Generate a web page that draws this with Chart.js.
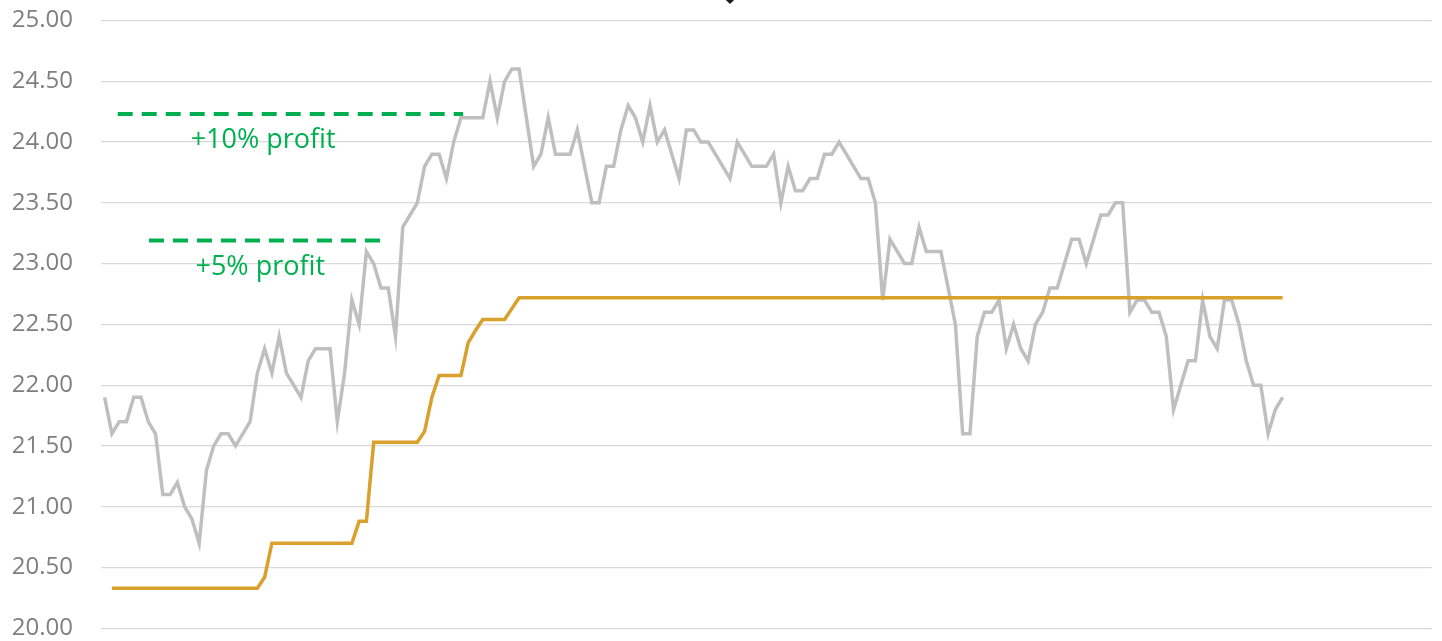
<!DOCTYPE html>
<html>
<head>
<meta charset="utf-8">
<script src="https://cdn.jsdelivr.net/npm/chart.js@4.4.1/dist/chart.umd.min.js"></script>
<style>
  html, body { margin: 0; padding: 0; background: #ffffff; }
  #wrap { width: 1442px; height: 641px; position: relative; }
</style>
</head>
<body>
<div id="wrap"><canvas id="stopChart"></canvas></div>
<script>
// Number of day slots on the x axis (last ones are empty)
const daySlots = 183;

// Closing price, one value per trading day
const price = [
  21.9, 21.6, 21.7, 21.7, 21.9, 21.9, 21.7, 21.6, 21.1, 21.1,
  21.2, 21.0, 20.9, 20.7, 21.3, 21.5, 21.6, 21.6, 21.5, 21.6,
  21.7, 22.1, 22.3, 22.1, 22.4, 22.1, 22.0, 21.9, 22.2, 22.3,
  22.3, 22.3, 21.7, 22.1, 22.7, 22.5, 23.1, 23.0, 22.8, 22.8,
  22.4, 23.3, 23.4, 23.5, 23.8, 23.9, 23.9, 23.7, 24.0, 24.2,
  24.2, 24.2, 24.2, 24.5, 24.2, 24.5, 24.6, 24.6, 24.2, 23.8,
  23.9, 24.2, 23.9, 23.9, 23.9, 24.1, 23.8, 23.5, 23.5, 23.8,
  23.8, 24.1, 24.3, 24.2, 24.0, 24.3, 24.0, 24.1, 23.9, 23.7,
  24.1, 24.1, 24.0, 24.0, 23.9, 23.8, 23.7, 24.0, 23.9, 23.8,
  23.8, 23.8, 23.9, 23.5, 23.8, 23.6, 23.6, 23.7, 23.7, 23.9,
  23.9, 24.0, 23.9, 23.8, 23.7, 23.7, 23.5, 22.7, 23.2, 23.1,
  23.0, 23.0, 23.3, 23.1, 23.1, 23.1, 22.8, 22.5, 21.6, 21.6,
  22.4, 22.6, 22.6, 22.7, 22.3, 22.5, 22.3, 22.2, 22.5, 22.6,
  22.8, 22.8, 23.0, 23.2, 23.2, 23.0, 23.2, 23.4, 23.4, 23.5,
  23.5, 22.6, 22.7, 22.7, 22.6, 22.6, 22.4, 21.8, 22.0, 22.2,
  22.2, 22.7, 22.4, 22.3, 22.7, 22.7, 22.5, 22.2, 22.0, 22.0,
  21.6, 21.8, 21.9
];

// Trailing stop level (starts on day 2)
const trailingStop = [
  null, 20.33, 20.33, 20.33, 20.33, 20.33, 20.33, 20.33, 20.33, 20.33,
  20.33, 20.33, 20.33, 20.33, 20.33, 20.33, 20.33, 20.33, 20.33, 20.33,
  20.33, 20.33, 20.42, 20.70, 20.70, 20.70, 20.70, 20.70, 20.70, 20.70,
  20.70, 20.70, 20.70, 20.70, 20.70, 20.88, 20.88, 21.53, 21.53, 21.53,
  21.53, 21.53, 21.53, 21.53, 21.62, 21.90, 22.08, 22.08, 22.08, 22.08,
  22.35, 22.45, 22.54, 22.54, 22.54, 22.54, 22.63, 22.72, 22.72, 22.72,
  22.72, 22.72, 22.72, 22.72, 22.72, 22.72, 22.72, 22.72, 22.72, 22.72,
  22.72, 22.72, 22.72, 22.72, 22.72, 22.72, 22.72, 22.72, 22.72, 22.72,
  22.72, 22.72, 22.72, 22.72, 22.72, 22.72, 22.72, 22.72, 22.72, 22.72,
  22.72, 22.72, 22.72, 22.72, 22.72, 22.72, 22.72, 22.72, 22.72, 22.72,
  22.72, 22.72, 22.72, 22.72, 22.72, 22.72, 22.72, 22.72, 22.72, 22.72,
  22.72, 22.72, 22.72, 22.72, 22.72, 22.72, 22.72, 22.72, 22.72, 22.72,
  22.72, 22.72, 22.72, 22.72, 22.72, 22.72, 22.72, 22.72, 22.72, 22.72,
  22.72, 22.72, 22.72, 22.72, 22.72, 22.72, 22.72, 22.72, 22.72, 22.72,
  22.72, 22.72, 22.72, 22.72, 22.72, 22.72, 22.72, 22.72, 22.72, 22.72,
  22.72, 22.72, 22.72, 22.72, 22.72, 22.72, 22.72, 22.72, 22.72, 22.72,
  22.72, 22.72, 22.72
];

// Profit targets: level and the day span they cover
const targetNames = ["+10% profit", "+5% profit"];
const targetLevels = [24.23, 23.19];
const targetFrom = [1.8, 6.1];
const targetTo = [49.3, 39.1];

// Signal marker, sits just above the top of the plot
const signalDays = [86];
const signalValues = [25.18];

// Y axis ticks
const yTicks = [20, 20.5, 21, 21.5, 22, 22.5, 23, 23.5, 24, 24.5, 25];

const green = "#00b050";

const toPoints = arr => arr.map((v, i) => ({ x: i, y: v }));

// Text under the dashed target lines, placed in data space
const targetLabels = [
  { text: targetNames[0], x: 21.8, y: 23.95 },
  { text: targetNames[1], x: 21.4, y: 22.91 }
];

// Chart.js skips points outside the chart area, so the signal diamond is drawn here
const extrasPlugin = {
  id: "extras",
  afterDatasetsDraw(chart) {
    const { ctx, scales } = chart;
    ctx.save();
    ctx.font = '27px "Open Sans"';
    ctx.fillStyle = green;
    ctx.textAlign = "center";
    ctx.textBaseline = "alphabetic";
    targetLabels.forEach(l => {
      ctx.fillText(l.text, scales.x.getPixelForValue(l.x), scales.y.getPixelForValue(l.y));
    });

    ctx.fillStyle = "#1a1a1a";
    const r = 5.5;
    signalDays.forEach((d, i) => {
      const px = scales.x.getPixelForValue(d);
      const py = scales.y.getPixelForValue(signalValues[i]);
      ctx.beginPath();
      ctx.moveTo(px, py - r);
      ctx.lineTo(px + r, py);
      ctx.lineTo(px, py + r);
      ctx.lineTo(px - r, py);
      ctx.closePath();
      ctx.fill();
    });
    ctx.restore();
  }
};

const datasets = [
  {
    label: "Price",
    data: toPoints(price),
    borderColor: "#bfbfbf",
    borderWidth: 3.5,
    pointRadius: 0,
    tension: 0,
    order: 2
  },
  {
    label: "Trailing stop",
    data: toPoints(trailingStop),
    borderColor: "#d9a02c",
    borderWidth: 3.5,
    pointRadius: 0,
    tension: 0,
    order: 1
  }
];

targetNames.forEach((name, i) => {
  datasets.push({
    label: name,
    data: [{ x: targetFrom[i], y: targetLevels[i] }, { x: targetTo[i], y: targetLevels[i] }],
    borderColor: green,
    borderWidth: 4,
    borderDash: [15, 9],
    pointRadius: 0,
    order: 0
  });
});

const ctx = document.getElementById("stopChart").getContext("2d");
const stopChart = new Chart(ctx, {
  type: "line",
  data: { datasets },
  options: {
    responsive: true,
    maintainAspectRatio: false,
    animation: false,
    layout: { padding: { top: 20.5, right: 10.3, bottom: 12.7, left: 0 } },
    plugins: {
      legend: { display: false },
      tooltip: { enabled: false }
    },
    scales: {
      x: {
        type: "linear",
        min: -0.5,
        max: daySlots - 0.5,
        display: false
      },
      y: {
        min: 20,
        max: 25,
        afterFit: s => { s.width = 101; },
        afterBuildTicks: s => { s.ticks = yTicks.map(v => ({ value: v })); },
        grid: { color: "#d9d9d9", lineWidth: 1.2, drawTicks: true, tickLength: 28, tickColor: "rgba(0,0,0,0)" },
        border: { display: false },
        ticks: {
          padding: 0,
          color: "#7f7f7f",
          font: { family: "Open Sans", size: 24, lineHeight: 1 },
          callback: v => Number(v).toFixed(2)
        }
      }
    }
  },
  plugins: [extrasPlugin]
});
</script>
</body>
</html>
